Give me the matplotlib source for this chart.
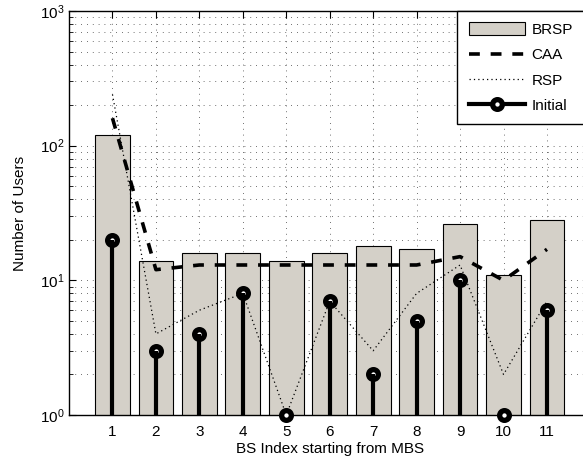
import numpy as np
import matplotlib
matplotlib.use('Agg')
import matplotlib.pyplot as plt
from matplotlib.legend_handler import HandlerLine2D
from matplotlib.lines import Line2D
from matplotlib.patches import Patch
from matplotlib.ticker import LogLocator, NullFormatter

plt.rcParams['font.family'] = ['Liberation Sans', 'DejaVu Sans']
plt.rcParams['mathtext.fontset'] = 'custom'
plt.rcParams['mathtext.rm'] = 'Liberation Sans'
plt.rcParams['mathtext.it'] = 'Liberation Sans'

# users per base station (index 1 = MBS)
bs_index = [1, 2, 3, 4, 5, 6, 7, 8, 9, 10, 11]
brsp = [120, 14, 16, 16, 14, 16, 18, 17, 26, 11, 28]
caa = [160, 12, 13, 13, 13, 13, 13, 13, 15, 10, 17]
rsp = [240, 4, 6, 8, 1, 7, 3, 8, 13, 2, 7]
initial = [20, 3, 4, 8, 1, 7, 2, 5, 10, 1, 6]

fig = plt.figure(figsize=(5.83, 4.70), dpi=100)
ax = fig.add_axes([0.1184, 0.117, 0.8943, 0.8596])

ax.set_yscale('log')
ax.set_xlim(0, 12)
ax.set_ylim(1, 1000)

# dotted grid under everything
grid_style = dict(linestyle=(0, (1, 6)), linewidth=0.6, color='0.25')
ax.set_axisbelow(True)
ax.grid(True, which='major', axis='both', **grid_style)
ax.grid(True, which='minor', axis='y', **grid_style)

ax.bar(bs_index, brsp, width=0.8, color='#d4d0c8', edgecolor='k', linewidth=0.8, zorder=2)

caa_line, = ax.plot(bs_index, caa, color='k', linewidth=2.6, zorder=5)
caa_line.set_dashes((3.0, 3.0))

ax.plot(bs_index, rsp, color='k', linewidth=0.9, linestyle=(0, (1, 2.5)), zorder=4)

# stems for the initial association
ax.plot(bs_index, initial, linestyle='none', marker='o', markersize=7, markeredgewidth=3.8,
        markerfacecolor='w', markeredgecolor='k', zorder=6, clip_on=False)
ax.vlines(bs_index, 1, initial, color='k', linewidth=3.0, zorder=7)

ax.set_xticks(bs_index)
ax.yaxis.set_major_locator(LogLocator(base=10, numticks=10))
ax.yaxis.set_minor_locator(LogLocator(base=10, subs=np.arange(2, 10), numticks=20))
ax.yaxis.set_minor_formatter(NullFormatter())
ax.tick_params(which='both', direction='in', top=True, right=True, labelsize=11)
ax.tick_params(which='major', length=5, width=0.8)
ax.tick_params(axis='x', which='major', pad=7)
ax.tick_params(which='minor', length=3, width=0.6)
for s in ax.spines.values():
    s.set_linewidth(1.0)

ax.set_xlabel('BS Index starting from MBS', fontsize=11, labelpad=2)
ax.set_ylabel('Number of Users', fontsize=11, labelpad=9)


class StemHandler(HandlerLine2D):
    # put the marker at the right end of the legend sample
    def get_xdata(self, legend, xdescent, ydescent, width, height, fontsize):
        xdata = np.array([-xdescent, -xdescent + width])
        return xdata, np.array([-xdescent + width])


h_brsp = Patch(facecolor='#d4d0c8', edgecolor='k', linewidth=0.8)
h_caa = Line2D([], [], color='k', linewidth=2.6, dashes=(3.0, 3.0))
h_rsp = Line2D([], [], color='k', linewidth=0.9, linestyle=(0, (1, 2.5)))
h_init = Line2D([], [], color='k', linewidth=3.0, marker='o', markersize=7, markeredgewidth=3.8,
                markerfacecolor='w', markeredgecolor='k')

leg = ax.legend([h_brsp, h_caa, h_rsp, h_init], ['BRSP', 'CAA', 'RSP', 'Initial'],
                loc='upper right', bbox_to_anchor=(0.988, 1.0), borderaxespad=0,
                fancybox=False, framealpha=1, edgecolor='k', fontsize=11,
                handlelength=3.7, handleheight=0.9, handletextpad=0.4,
                labelspacing=0.7, borderpad=0.75,
                handler_map={h_init: StemHandler(numpoints=1)})
leg.get_frame().set_linewidth(1.0)
leg.set_zorder(10)

fig.savefig('out.png', dpi=100)
